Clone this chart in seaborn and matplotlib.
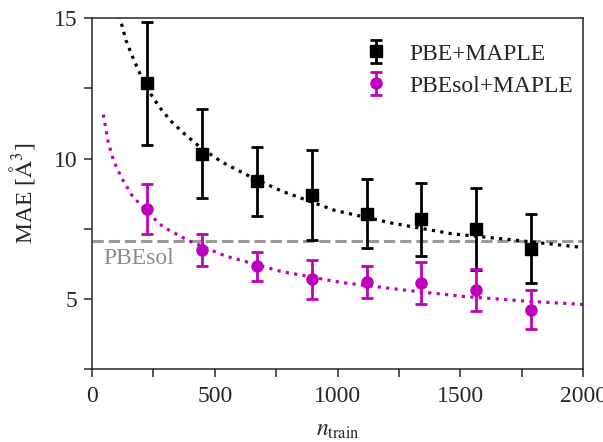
import numpy as np
import pandas as pd
import seaborn as sns
import matplotlib
matplotlib.use("Agg")
import matplotlib.pyplot as plt
from matplotlib.ticker import MultipleLocator

# %%
# values
n_train = [224, 447, 671, 894, 1118, 1341, 1565, 1788]
pbe_mae = [12.68, 10.18, 9.19, 8.70, 8.04, 7.83, 7.50, 6.79]
pbe_err = [2.20, 1.57, 1.22, 1.61, 1.24, 1.31, 1.46, 1.22]
pbesol_mae = [8.21, 6.73, 6.16, 5.69, 5.60, 5.56, 5.32, 4.61]
pbesol_err = [0.90, 0.57, 0.51, 0.71, 0.58, 0.75, 0.76, 0.70]
pbesol_ref = 7.06

# dotted fit curves
pbe_fit_x = [112, 118, 138, 166, 196, 229, 274, 322, 379, 440, 528, 650, 773, 990, 1221, 1465, 1737, 2000]
pbe_fit_y = [15.1, 14.88, 14.22, 13.61, 13.01, 12.44, 11.84, 11.33, 10.86, 10.41, 9.88, 9.33, 8.84, 8.15, 7.70, 7.32, 7.08, 6.83]
pbesol_fit_x = [46, 66, 87, 121, 162, 223, 290, 392, 542, 773, 1017, 1275, 1519, 1764, 2000]
pbesol_fit_y = [11.57, 10.59, 9.94, 9.30, 8.70, 8.10, 7.56, 7.08, 6.53, 5.97, 5.58, 5.31, 5.08, 4.92, 4.80]

# %%
sns.set_style("ticks")
plt.rcParams["font.family"] = ["Liberation Serif", "DejaVu Serif"]
plt.rcParams["mathtext.fontset"] = "stix"
plt.rcParams["font.size"] = 17

fig, ax = plt.subplots(figsize=(6.03, 4.42), dpi=100)
fig.subplots_adjust(left=0.1526, right=0.967, bottom=0.1652, top=0.9586)

sns.lineplot(x=pbe_fit_x, y=pbe_fit_y, ax=ax, color="black", linestyle=":", linewidth=2.3, sort=False)
sns.lineplot(x=pbesol_fit_x, y=pbesol_fit_y, ax=ax, color="m", linestyle=":", linewidth=2.3, sort=False)

ax.axhline(pbesol_ref, color="#9a9a9a", linestyle="--", linewidth=2.2, zorder=1)
ax.text(45, 6.25, "PBEsol", color="#8c8c8c", fontsize=17, ha="left", va="baseline")

ax.errorbar(n_train, pbe_mae, yerr=pbe_err, fmt="s", color="black", markersize=8,
            elinewidth=2, capsize=4, capthick=2, label="PBE+MAPLE", zorder=3)
ax.errorbar(n_train, pbesol_mae, yerr=pbesol_err, fmt="o", color="m", markersize=8,
            elinewidth=2, capsize=4, capthick=2, label="PBEsol+MAPLE", zorder=3)

ax.set_xlim(0, 2000)
ax.set_ylim(2.5, 15)
ax.xaxis.set_major_locator(MultipleLocator(500))
ax.xaxis.set_minor_locator(MultipleLocator(250))
ax.yaxis.set_major_locator(MultipleLocator(5))
ax.yaxis.set_minor_locator(MultipleLocator(2.5))
ax.tick_params(which="both", direction="out", length=5.5, width=1.1, labelsize=17)
ax.tick_params(axis="x", which="both", pad=7)
ax.tick_params(axis="y", which="both", pad=5)
ax.tick_params(which="both", top=False, right=False)
for s in ax.spines.values():
    s.set_linewidth(1.1)

ax.set_xlabel(r"$n_{\mathrm{train}}$", fontsize=17, labelpad=9)
ax.set_ylabel(r"MAE [$\mathrm{\AA}^3$]", fontsize=17, labelpad=12)

ax.legend(loc="upper right", bbox_to_anchor=(1.022, 0.99), frameon=False,
          handlelength=1.2, handletextpad=0.8, labelspacing=0.45,
          borderaxespad=0.5, fontsize=17)

fig.savefig("out.png", dpi=100)
